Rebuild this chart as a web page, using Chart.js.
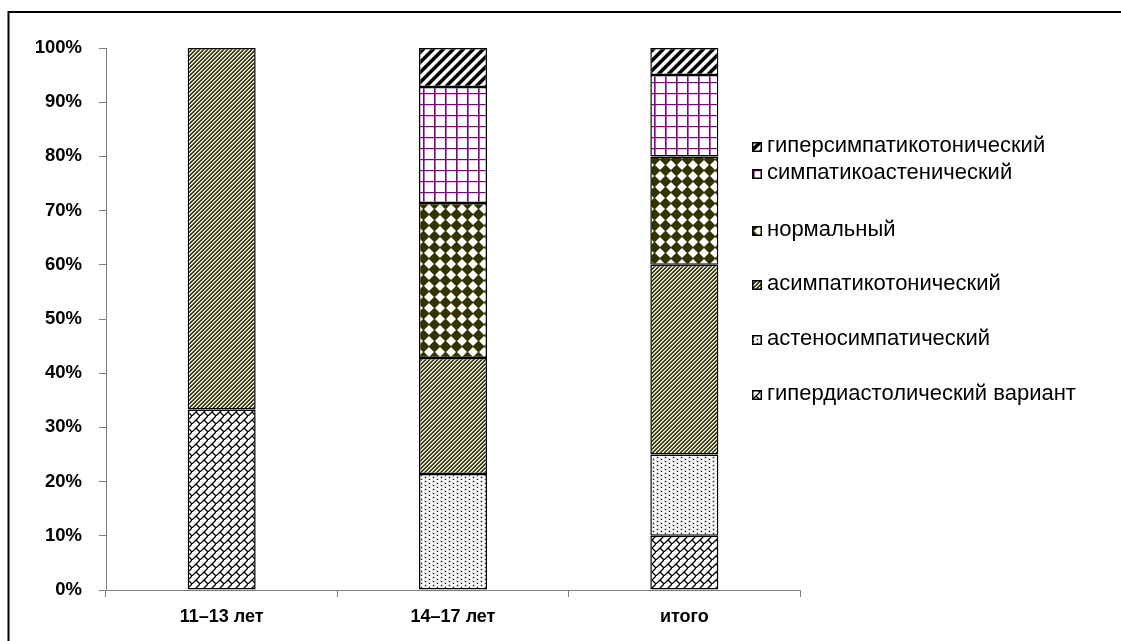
<!DOCTYPE html>
<html lang="ru">
<head>
<meta charset="utf-8">
<title>Варианты вегетативного обеспечения по возрастным группам</title>
<script src="https://cdn.jsdelivr.net/npm/chart.js@4.4.1/dist/chart.umd.min.js"></script>
<style>
  html, body { margin: 0; padding: 0; background: #fff; }
  #wrap { position: relative; width: 1121px; height: 641px; overflow: hidden; }
</style>
</head>
<body>
<div id="wrap"><canvas id="chart" width="1121" height="641"></canvas></div>
<script>
// Age groups on the category axis
const categories = ['11–13 лет', '14–17 лет', 'итого'];

// Series names, bottom of the stack first
const seriesNames = [
  'гипердиастолический вариант',
  'астеносимпатический',
  'асимпатикотонический',
  'нормальный',
  'симпатикоастенический',
  'гиперсимпатикотонический'
];

// Share of each variant within a group, %
const hyperdiastolic      = [33.3, 0,    10];
const asthenosympathetic  = [0,    21.4, 15];
const asympathicotonic    = [66.7, 21.4, 35];
const normal              = [0,    28.6, 20];
const sympathicoasthenic  = [0,    21.4, 15];
const hypersympathicotonic= [0,    7.2,  5];

// Value axis ticks
const yTicks = [0, 10, 20, 30, 40, 50, 60, 70, 80, 90, 100];

const FONT = "'Liberation Sans', Arial, sans-serif";

// ---- hatch fills -------------------------------------------------------
function tile(w, h, paint) {
  const c = document.createElement('canvas');
  c.width = w; c.height = h;
  const g = c.getContext('2d');
  g.fillStyle = '#fff';
  g.fillRect(0, 0, w, h);
  paint(g, w, h);
  return g.createPattern(c, 'repeat');
}

// diagonal brick
const fillBrick = tile(8, 8, (g) => {
  g.strokeStyle = '#000';
  g.lineWidth = 1.3;
  g.beginPath();
  g.moveTo(-1, 9); g.lineTo(9, -1);
  g.moveTo(4, 4); g.lineTo(9, 9);
  g.moveTo(-4, 4); g.lineTo(1, 9);
  g.stroke();
});

// sparse dots
const fillDots = tile(8, 8, (g) => {
  const pts = [[1, 1], [5, 3], [1, 5], [5, 7]];
  pts.forEach(([x, y]) => {
    g.fillStyle = '#999';
    g.fillRect(x - 0.5, y - 0.5, 2, 2);
    g.fillStyle = '#111';
    g.fillRect(x, y, 1, 1);
  });
});

// narrow olive upward diagonal
const fillOliveDiag = tile(4, 4, (g) => {
  for (let x = 0; x < 4; x++) {
    for (let y = 0; y < 4; y++) {
      const k = (x + y) % 4;
      if (k === 0) { g.fillStyle = '#333308'; g.fillRect(x, y, 1, 1); }
      else if (k === 1) { g.fillStyle = '#4f4f1e'; g.fillRect(x, y, 1, 1); }
      else if (k === 3) { g.fillStyle = '#b0b098'; g.fillRect(x, y, 1, 1); }
    }
  }
});

// solid diamonds
const fillDiamond = tile(11, 11, (g) => {
  g.fillStyle = '#333300';
  g.beginPath();
  g.moveTo(5.5, -0.5); g.lineTo(11.5, 5.5); g.lineTo(5.5, 11.5); g.lineTo(-0.5, 5.5);
  g.closePath();
  g.fill();
});

// purple grid
const fillGrid = tile(11, 11, (g) => {
  g.fillStyle = '#800080';
  g.fillRect(5, 0, 1.6, 11);
  g.fillRect(0, 5, 11, 1.2);
});

// wide black upward diagonal
const fillWideDiag = tile(10, 10, (g) => {
  for (let x = 0; x < 10; x++) {
    for (let y = 0; y < 10; y++) {
      const k = (x + y) % 10;
      if (k < 4) { g.fillStyle = '#000'; g.fillRect(x, y, 1, 1); }
      else if (k === 4 || k === 9) { g.fillStyle = '#808080'; g.fillRect(x, y, 1, 1); }
    }
  }
});

const seriesValues = [hyperdiastolic, asthenosympathetic, asympathicotonic,
                      normal, sympathicoasthenic, hypersympathicotonic];
const seriesFills = [fillBrick, fillDots, fillOliveDiag, fillDiamond, fillGrid, fillWideDiag];

const datasets = seriesNames.map((name, i) => ({
  label: name,
  data: seriesValues[i],
  backgroundColor: seriesFills[i],
  borderColor: '#000',
  borderWidth: 1.5,
  borderSkipped: false,
  barPercentage: 0.294,
  categoryPercentage: 1
}));

// ---- outer frame and side legend ---------------------------------------
const framePlugin = {
  id: 'frame',
  afterDraw(chart) {
    const ctx = chart.ctx;
    ctx.save();
    ctx.strokeStyle = '#000';
    ctx.lineWidth = 2;
    ctx.strokeRect(8.5, 12, 1300, 900);
    ctx.restore();
  }
};

const legendRows = [146, 173, 230, 284, 339, 394];
const sideLegend = {
  id: 'sideLegend',
  afterDraw(chart) {
    const ctx = chart.ctx;
    const sets = chart.data.datasets;
    ctx.save();
    ctx.font = '22px ' + FONT;
    ctx.textBaseline = 'middle';
    ctx.textAlign = 'left';
    for (let r = 0; r < sets.length; r++) {
      const ds = sets[sets.length - 1 - r];
      const y = legendRows[r];
      ctx.fillStyle = ds.backgroundColor;
      ctx.fillRect(752, y - 4, 10, 10);
      ctx.strokeStyle = '#000';
      ctx.lineWidth = 1.5;
      ctx.strokeRect(752.75, y - 3.25, 8.5, 8.5);
      ctx.fillStyle = '#000';
      ctx.fillText(ds.label, 767, y);
    }
    ctx.restore();
  }
};

new Chart(document.getElementById('chart'), {
  type: 'bar',
  data: { labels: categories, datasets },
  options: {
    responsive: false,
    animation: false,
    layout: { padding: { left: 8, top: 48, right: 321, bottom: 11 } },
    plugins: { legend: { display: false }, tooltip: { enabled: false } },
    scales: {
      x: {
        stacked: true,
        afterFit(scale) { scale.height = 40; },
        grid: { drawOnChartArea: false, drawTicks: true, tickLength: 7, color: '#808080', offset: true },
        border: { display: true, color: '#808080', width: 1 },
        ticks: { color: '#000', padding: 9, font: { family: FONT, size: 18, weight: 'bold' } }
      },
      y: {
        stacked: true,
        min: 0,
        max: 100,
        afterFit(scale) { scale.width = 98; },
        afterBuildTicks(scale) { scale.ticks = yTicks.map(v => ({ value: v })); },
        grid: { drawOnChartArea: false, drawTicks: true, tickLength: 7, color: '#808080' },
        border: { display: true, color: '#808080', width: 1 },
        ticks: {
          color: '#000',
          padding: 17,
          font: { family: FONT, size: 18.5, weight: 'bold' },
          callback: (v) => v + '%'
        }
      }
    }
  },
  plugins: [framePlugin, sideLegend]
});
</script>
</body>
</html>
